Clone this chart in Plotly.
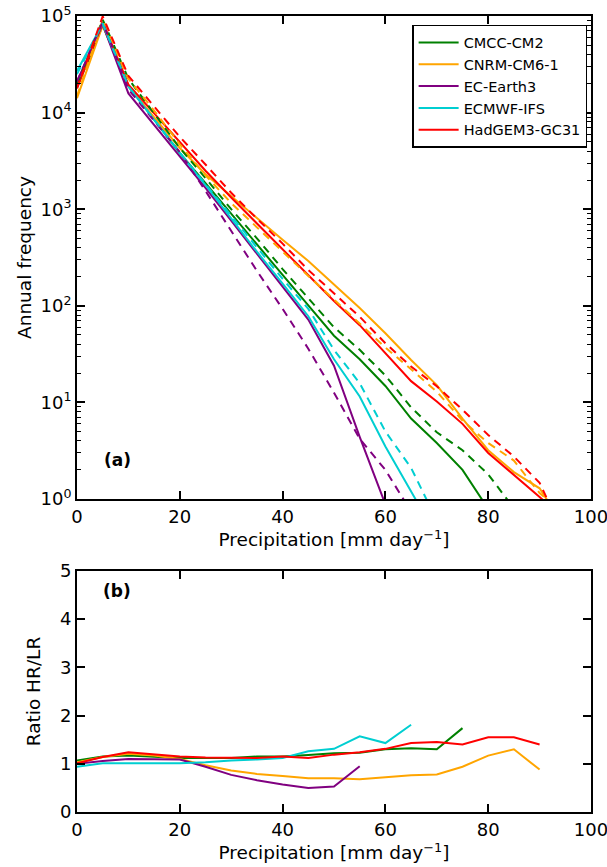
import plotly.graph_objects as go

# precipitation bins (mm/day)
precip = [0, 5, 10, 15, 20, 25, 30, 35, 40, 45, 50, 55, 60, 65, 70, 75, 80, 85, 90, 95]

models = ["CMCC-CM2", "CNRM-CM6-1", "EC-Earth3", "ECMWF-IFS", "HadGEM3-GC31"]
colors = ["green", "orange", "purple", "#00CED1", "red"]

# annual frequency, solid lines
cmcc_solid = [18200, 80000, 19000, 8500, 3800, 1860, 890, 437, 209, 101, 49, 28, 14.8, 6.8, 3.8, 2.0, 0.79]
cnrm_solid = [14100, 80000, 18600, 8900, 4300, 2300, 1350, 810, 483, 291, 166, 95, 52, 27.5, 15.1, 6.8, 3.2, 1.9, 1.29, 0.5]
ecearth_solid = [21000, 82000, 15800, 7500, 3550, 1660, 760, 347, 162, 72, 24, 4.4, 0.88]
ecmwf_solid = [27000, 83000, 18600, 8400, 3800, 1780, 800, 363, 170, 78, 28, 11.5, 3.5, 1.19, 0.41]
hadgem_solid = [17800, 87000, 19500, 9800, 4900, 2500, 1320, 710, 385, 209, 112, 63, 32, 16.6, 10.2, 6.0, 3.0, 1.78, 1.05, 0.6]

# annual frequency, dashed lines
cmcc_dash = [19500, 92000, 22400, 9800, 4300, 2100, 1000, 500, 240, 120, 60, 35, 19, 8.9, 4.9, 3.2, 1.8, 0.8]
cnrm_dash = [14800, 91000, 22400, 10500, 4700, 2240, 1160, 645, 360, 204, 116, 65, 37, 22, 12.9, 6.5, 3.8, 2.5, 1.15, 0.7]
ecearth_dash = [21000, 87000, 17400, 8200, 3900, 1550, 590, 230, 93, 36, 12.6, 4.2, 2.0, 0.74]
ecmwf_dash = [25000, 84000, 18800, 8500, 3850, 1820, 860, 400, 190, 93, 35, 15.8, 5.0, 2.1, 0.6]
hadgem_dash = [18000, 99000, 24000, 11700, 5600, 2900, 1480, 800, 440, 235, 135, 77, 41, 23.5, 14.7, 8.4, 4.6, 2.75, 1.47, 0.4]

# ratio HR/LR
cmcc_ratio = [1.07, 1.15, 1.17, 1.14, 1.12, 1.12, 1.12, 1.15, 1.15, 1.18, 1.22, 1.23, 1.30, 1.32, 1.30, 1.74]
cnrm_ratio = [1.03, 1.14, 1.21, 1.17, 1.10, 0.97, 0.86, 0.79, 0.745, 0.70, 0.70, 0.68, 0.72, 0.76, 0.78, 0.94, 1.17, 1.30, 0.88]
ecearth_ratio = [1.0, 1.06, 1.10, 1.10, 1.09, 0.94, 0.77, 0.66, 0.57, 0.50, 0.53, 0.95]
ecmwf_ratio = [0.94, 1.01, 1.01, 1.01, 1.01, 1.03, 1.07, 1.09, 1.12, 1.26, 1.31, 1.57, 1.43, 1.81]
hadgem_ratio = [1.01, 1.14, 1.24, 1.19, 1.15, 1.13, 1.12, 1.12, 1.15, 1.12, 1.19, 1.24, 1.31, 1.43, 1.45, 1.40, 1.55, 1.55, 1.40]

freq_ticks = [1, 10, 100, 1000, 10000, 100000]
freq_labels = ["10<sup>0</sup>", "10<sup>1</sup>", "10<sup>2</sup>", "10<sup>3</sup>", "10<sup>4</sup>", "10<sup>5</sup>"]
minor_vals = [k * 10 ** n for n in range(5) for k in range(2, 10)]

solids = [cmcc_solid, cnrm_solid, ecearth_solid, ecmwf_solid, hadgem_solid]
dashes = [cmcc_dash, cnrm_dash, ecearth_dash, ecmwf_dash, hadgem_dash]
ratios = [cmcc_ratio, cnrm_ratio, ecearth_ratio, ecmwf_ratio, hadgem_ratio]

font = "DejaVu Sans"
fig = go.Figure()

for name, col, s in zip(models, colors, solids):
    fig.add_trace(go.Scatter(x=precip[:len(s)], y=s, mode="lines", name=name,
                             line=dict(color=col, width=2), xaxis="x", yaxis="y"))
for name, col, d in zip(models, colors, dashes):
    fig.add_trace(go.Scatter(x=precip[:len(d)], y=d, mode="lines", showlegend=False,
                             line=dict(color=col, width=2, dash="8px,6px"), xaxis="x", yaxis="y"))
for name, col, r in zip(models, colors, ratios):
    fig.add_trace(go.Scatter(x=precip[:len(r)], y=r, mode="lines", showlegend=False,
                             line=dict(color=col, width=2), xaxis="x2", yaxis="y2"))

axis_style = dict(showgrid=False, zeroline=False, showline=True, linecolor="black", linewidth=2,
                  mirror="allticks", ticks="inside", tickcolor="black", ticklen=8, tickwidth=1.5,
                  tickfont=dict(size=18, color="black"), automargin=False,
                  ticklabeloverflow="allow")

xtitle = dict(text="Precipitation [mm day<sup>−1</sup>]", font=dict(size=18.5), standoff=3)

fig.update_layout(
    width=607, height=867,
    margin=dict(l=77, r=16, t=16, b=55),
    paper_bgcolor="white", plot_bgcolor="white",
    font=dict(family=font, color="black"),
    xaxis=dict(axis_style, domain=[0, 1], anchor="y", range=[0, 100], dtick=20, title=xtitle),
    yaxis=dict(axis_style, domain=[0.3932, 1], anchor="x", type="log", range=[0, 5],
               tickvals=freq_ticks, ticktext=freq_labels,
               minor=dict(tickvals=minor_vals, ticks="inside", ticklen=4, tickcolor="black",
                          tickwidth=1, showgrid=False),
               title=dict(text="Annual frequency", font=dict(size=18.5), standoff=4)),
    xaxis2=dict(axis_style, domain=[0, 1], anchor="y2", range=[0, 100], dtick=20, title=xtitle),
    yaxis2=dict(axis_style, domain=[0, 0.3028], anchor="x2", range=[0, 5], dtick=1,
                title=dict(text="Ratio HR/LR", font=dict(size=18.5), standoff=14)),
    legend=dict(x=0.652, y=0.9887, xanchor="left", yanchor="top", bgcolor="white",
                bordercolor="black", borderwidth=1.5, font=dict(size=14.5),
                tracegroupgap=0, itemwidth=40),
    annotations=[
        dict(text="<b>(a)</b>", x=0.078, y=0.08, xref="x domain", yref="y domain",
             xanchor="center", yanchor="middle", showarrow=False, font=dict(size=17)),
        dict(text="<b>(b)</b>", x=0.078, y=0.915, xref="x2 domain", yref="y2 domain",
             xanchor="center", yanchor="middle", showarrow=False, font=dict(size=17)),
    ],
)

# drop the default page margin so the figure sits at the window's corner
fig.write_html("out.html", config={"displayModeBar": False},
               post_script="document.body.style.margin = '0';")
